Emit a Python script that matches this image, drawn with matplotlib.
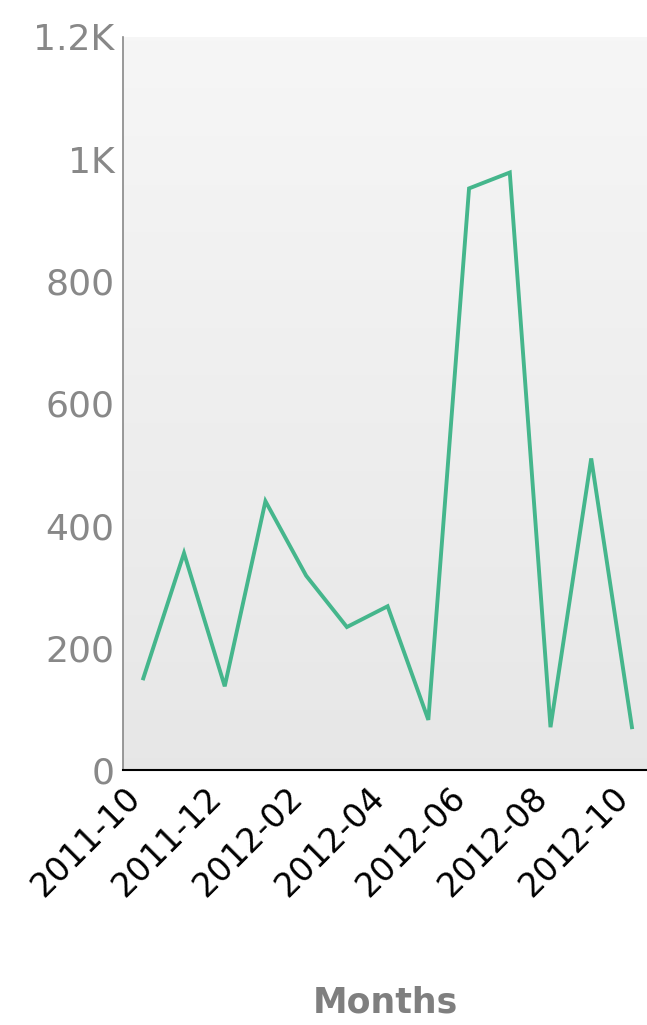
import numpy as np
import matplotlib
matplotlib.use("Agg")
import matplotlib.pyplot as plt
import matplotlib.transforms as mtransforms
from matplotlib.ticker import FuncFormatter

months = ["2011-10", "2011-11", "2011-12", "2012-01", "2012-02", "2012-03", "2012-04",
          "2012-05", "2012-06", "2012-07", "2012-08", "2012-09", "2012-10"]
values = [150, 355, 137, 440, 318, 234, 268, 82, 952, 978, 70, 510, 70]
yticks = [0, 200, 400, 600, 800, 1000, 1200]

def kfmt(v, pos):
    if v >= 1000:
        s = "%g" % (v / 1000.0)
        return s + "K"
    return "%d" % v

fig = plt.figure(figsize=(6.47, 10.25), dpi=100)
ax = fig.add_axes([0.190, 0.2488, 0.810, 0.7152])

x = np.arange(len(months))

# soft grey background gradient (light at top, a bit darker at bottom)
shade = np.linspace(0.965, 0.905, 256)
grad = np.dstack([shade, shade, shade]).reshape(256, 1, 3)
ax.imshow(grad, extent=[0, 1, 0, 1], transform=ax.transAxes,
          aspect="auto", origin="upper", zorder=0)

ax.plot(x, values, color="#45b68c", lw=2.8, solid_joinstyle="miter", zorder=3)

ax.set_xlim(-0.5, len(months) - 1 + 0.37)
ax.set_ylim(0, 1200)
ax.set_yticks(yticks)
ax.yaxis.set_major_formatter(FuncFormatter(kfmt))
ax.set_xticks(x[::2])
ax.set_xticklabels(months[::2], rotation=45, ha="right", va="center",
                   rotation_mode="anchor", fontsize=24, color="black")
ax.tick_params(axis="y", length=0, labelsize=26, labelcolor="#888888", pad=6)
ax.tick_params(axis="x", length=0, pad=16)

# nudge the date labels a little to the left
shift = mtransforms.ScaledTranslation(-8 / 100, 0, fig.dpi_scale_trans)
for lbl in ax.get_xticklabels():
    lbl.set_transform(lbl.get_transform() + shift)

for s in ["top", "right"]:
    ax.spines[s].set_visible(False)
ax.spines["left"].set_color("#888888")
ax.spines["left"].set_linewidth(1.2)
ax.spines["bottom"].set_color("black")
ax.spines["bottom"].set_linewidth(1.5)

fig.text(0.595, 0.0215, "Months", ha="center", va="center", fontsize=25,
         fontweight="bold", color="#7f7f7f")

fig.savefig("out.png", dpi=100)
